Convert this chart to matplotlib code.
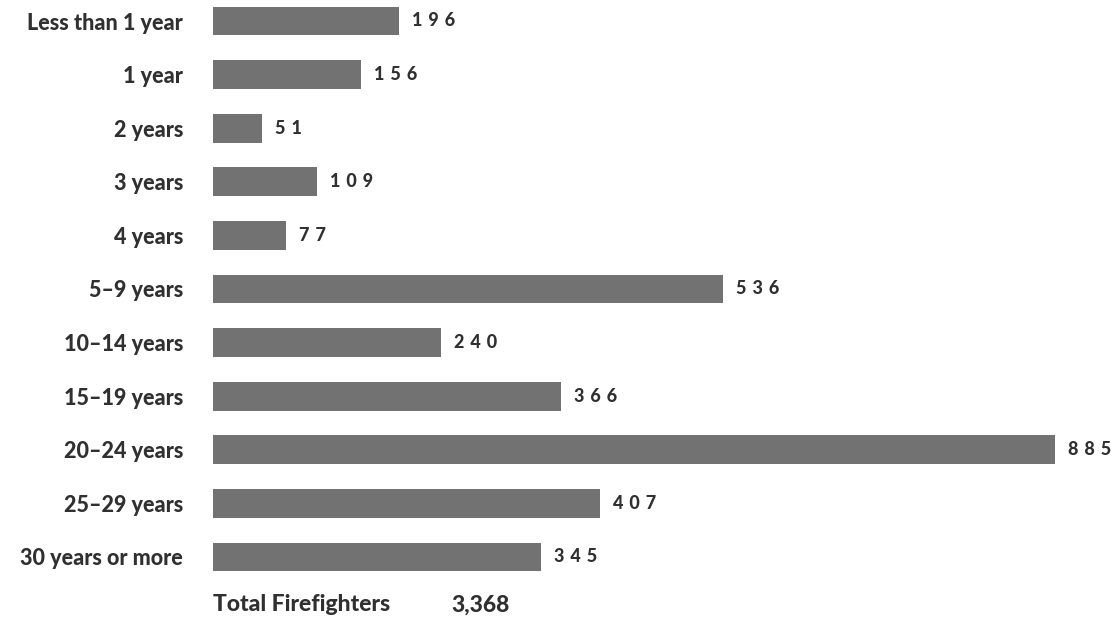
import matplotlib
matplotlib.use("Agg")
import matplotlib.pyplot as plt

categories = ["Less than 1 year", "1 year", "2 years", "3 years", "4 years",
              "5–9 years", "10–14 years", "15–19 years", "20–24 years",
              "25–29 years", "30 years or more"]
counts = [196, 156, 51, 109, 77, 536, 240, 366, 885, 407, 345]
total_label = "Total Firefighters"
total_value = 3368

W, H, DPI = 1113, 623, 100
fig = plt.figure(figsize=(W / DPI, H / DPI), dpi=DPI)
fig.patch.set_facecolor("white")

px_per_unit = 0.951
row_px = 53.6
first_y, left_px = 21, 213
ax = fig.add_axes([left_px / W, 0, 1 - left_px / W, 1])
ax.set_xlim(0, (W - left_px) / px_per_unit)
ax.set_ylim(len(categories) - 1 + (H - 557) / row_px, -first_y / row_px)

font = ["Lato", "DejaVu Sans"]
weight = "black"
text_color = "#303030"
bar_color = "#727272"

ypos = list(range(len(categories)))
ax.barh(ypos, counts, height=0.54, color=bar_color, edgecolor="none")

gap = 13 / px_per_unit
for y, v in zip(ypos, counts):
    ax.text(v + gap, y, "\u2004".join(str(v)), va="center", ha="left",
            fontsize=13, fontweight=weight, family=font, color=text_color)

ax.set_yticks(ypos)
ax.set_yticklabels(categories, family=font, fontweight=weight, fontsize=15.5,
                   color=text_color)
ax.tick_params(axis="y", length=0, pad=30 * 0.72)
ax.set_xticks([])
for s in ax.spines.values():
    s.set_visible(False)

total_y = len(categories) - 1 + (605 - 557) / row_px
ax.text(0, total_y, total_label, va="center", ha="left", fontsize=16.5,
        fontweight=weight, family=font, color=text_color)
ax.text((451 - left_px) / px_per_unit, total_y, f"{total_value:,}", va="center",
        ha="left", fontsize=16.5, fontweight=weight, family=font, color=text_color)

fig.savefig("out.png", dpi=DPI, facecolor="white")
